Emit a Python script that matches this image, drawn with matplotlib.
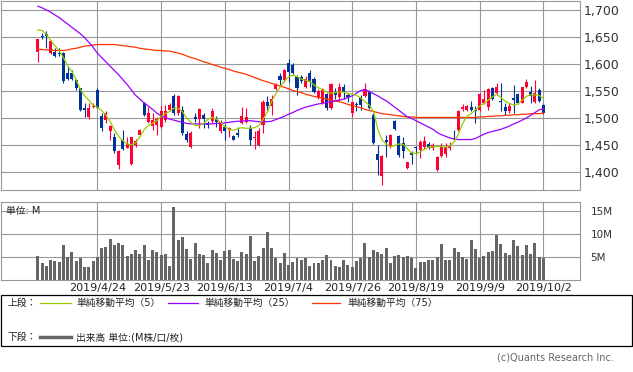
import matplotlib
matplotlib.use("Agg")
import matplotlib.pyplot as plt
from matplotlib.patches import Rectangle
from matplotlib.lines import Line2D
import numpy as np

plt.rcParams['font.family'] = ['DejaVu Sans', 'Noto Sans CJK JP']

# daily candles, 2019/4/4 .. 2019/10/2 (120 trading days)
opens = [1623, 1652, 1656, 1620, 1623, 1620, 1620, 1584, 1584, 1570,
         1555, 1518, 1502, 1521, 1552, 1504, 1496, 1475, 1465, 1413,
         1460, 1444, 1415, 1450, 1469, 1528, 1493, 1485, 1487, 1484,
         1496, 1515, 1540, 1510, 1515, 1470, 1447, 1502, 1499, 1506,
         1491, 1495, 1499, 1475, 1483, 1477, 1467, 1473, 1490, 1493,
         1481, 1462, 1450, 1487, 1530, 1522, 1553, 1578, 1570, 1602,
         1598, 1576, 1575, 1558, 1584, 1573, 1539, 1527, 1544, 1518,
         1549, 1538, 1558, 1543, 1510, 1525, 1539, 1541, 1549, 1505,
         1434, 1393, 1459, 1447, 1494, 1467, 1453, 1408, 1435, 1447,
         1441, 1447, 1451, 1444, 1404, 1430, 1433, 1444, 1473, 1478,
         1516, 1515, 1521, 1515, 1515, 1527, 1521, 1555, 1546, 1531,
         1520, 1512, 1537, 1545, 1528, 1558, 1549, 1530, 1551, 1524]
closes = [1646, 1650, 1652, 1643, 1615, 1619, 1569, 1573, 1572, 1555,
          1515, 1514, 1518, 1522, 1518, 1481, 1509, 1485, 1438, 1439,
          1442, 1452, 1464, 1458, 1478, 1506, 1509, 1496, 1499, 1513,
          1513, 1524, 1510, 1541, 1473, 1460, 1473, 1498, 1517, 1499,
          1487, 1512, 1493, 1493, 1475, 1481, 1460, 1469, 1504, 1502,
          1459, 1464, 1475, 1530, 1522, 1535, 1561, 1570, 1589, 1586,
          1583, 1555, 1569, 1573, 1566, 1549, 1550, 1553, 1518, 1562,
          1543, 1558, 1549, 1539, 1529, 1524, 1524, 1554, 1518, 1453,
          1422, 1430, 1456, 1468, 1480, 1431, 1438, 1418, 1431, 1444,
          1456, 1458, 1447, 1450, 1428, 1447, 1447, 1448, 1472, 1512,
          1521, 1522, 1514, 1512, 1544, 1536, 1553, 1536, 1557, 1530,
          1512, 1522, 1533, 1527, 1557, 1567, 1540, 1546, 1532, 1510]
highs = [1647, 1658, 1661, 1644, 1629, 1629, 1623, 1595, 1588, 1573,
         1556, 1527, 1527, 1528, 1556, 1509, 1512, 1487, 1472, 1441,
         1477, 1465, 1465, 1461, 1479, 1530, 1521, 1509, 1502, 1522,
         1524, 1527, 1544, 1543, 1522, 1475, 1475, 1509, 1518, 1510,
         1495, 1518, 1504, 1496, 1489, 1484, 1469, 1484, 1520, 1518,
         1487, 1475, 1481, 1533, 1540, 1543, 1564, 1583, 1590, 1609,
         1601, 1580, 1580, 1577, 1589, 1575, 1553, 1555, 1546, 1565,
         1555, 1564, 1562, 1547, 1530, 1530, 1543, 1564, 1552, 1509,
         1450, 1432, 1468, 1470, 1496, 1468, 1465, 1419, 1438, 1448,
         1459, 1467, 1456, 1453, 1430, 1453, 1453, 1456, 1477, 1515,
         1526, 1524, 1531, 1522, 1546, 1552, 1555, 1557, 1564, 1564,
         1528, 1528, 1561, 1547, 1558, 1572, 1559, 1570, 1555, 1526]
lows = [1604, 1646, 1629, 1618, 1613, 1614, 1565, 1570, 1570, 1552,
        1512, 1502, 1498, 1518, 1518, 1475, 1490, 1459, 1435, 1405,
        1441, 1444, 1413, 1447, 1466, 1503, 1491, 1478, 1468, 1481,
        1493, 1512, 1506, 1506, 1468, 1456, 1445, 1493, 1481, 1482,
        1481, 1491, 1484, 1472, 1459, 1465, 1459, 1464, 1489, 1491,
        1450, 1442, 1448, 1472, 1512, 1506, 1552, 1561, 1567, 1567,
        1581, 1542, 1564, 1555, 1558, 1546, 1536, 1525, 1515, 1516,
        1536, 1533, 1536, 1530, 1501, 1512, 1515, 1539, 1517, 1451,
        1394, 1375, 1428, 1444, 1478, 1428, 1425, 1405, 1415, 1434,
        1425, 1442, 1442, 1441, 1402, 1428, 1428, 1441, 1460, 1475,
        1512, 1512, 1512, 1490, 1513, 1526, 1515, 1533, 1543, 1512,
        1506, 1509, 1509, 1525, 1527, 1555, 1527, 1528, 1530, 1507]

# volume, millions of shares
volume = [5.1, 3.7, 3.0, 4.3, 4.1, 3.9, 7.6, 4.9, 6.0, 4.1,
          4.7, 2.8, 2.8, 4.1, 4.9, 6.9, 7.1, 8.8, 7.6, 8.0,
          7.6, 5.2, 5.6, 6.5, 5.6, 7.6, 4.3, 6.5, 6.0, 5.4,
          5.6, 3.0, 15.8, 8.6, 9.3, 6.7, 4.5, 8.0, 5.6, 5.4,
          3.7, 6.5, 5.8, 4.3, 6.3, 6.5, 4.5, 4.1, 6.0, 5.6,
          9.5, 4.1, 5.2, 6.9, 10.4, 6.9, 4.7, 3.7, 5.8, 3.2,
          3.9, 4.7, 4.3, 4.7, 3.0, 3.7, 3.7, 4.3, 5.4, 4.3,
          3.0, 2.8, 4.3, 3.2, 2.8, 4.1, 4.7, 8.0, 4.9, 6.5,
          6.0, 5.6, 6.9, 3.7, 5.2, 5.4, 5.0, 5.2, 4.7, 2.6,
          3.9, 3.9, 4.3, 4.3, 4.9, 7.8, 4.3, 4.3, 6.9, 6.0,
          4.9, 4.5, 8.6, 6.7, 4.7, 5.2, 6.0, 6.3, 9.7, 7.8,
          5.8, 5.4, 8.6, 7.3, 5.4, 7.6, 5.6, 8.0, 4.9, 4.7]

ma5 = [1663, 1662, 1655, 1644, 1634, 1625, 1612, 1597, 1586, 1571,
       1553, 1541, 1533, 1524, 1520, 1514, 1505, 1494, 1478, 1466,
       1458, 1452, 1450, 1454, 1465, 1478, 1486, 1490, 1495, 1503,
       1508, 1512, 1518, 1518, 1512, 1500, 1492, 1486, 1486, 1490,
       1497, 1501, 1498, 1492, 1484, 1479, 1477, 1480, 1482, 1481,
       1481, 1482, 1486, 1497, 1511, 1530, 1545, 1557, 1568, 1576,
       1579, 1577, 1572, 1570, 1568, 1561, 1556, 1552, 1548, 1546,
       1547, 1548, 1548, 1545, 1544, 1542, 1537, 1530, 1524, 1512,
       1480, 1459, 1452, 1447, 1449, 1452, 1451, 1443, 1435, 1434,
       1437, 1442, 1446, 1447, 1447, 1447, 1446, 1448, 1456, 1470,
       1490, 1503, 1508, 1515, 1522, 1527, 1533, 1539, 1544, 1538,
       1531, 1527, 1524, 1526, 1533, 1540, 1543, 1543, 1542, 1536]
ma25 = [1707, 1704, 1700, 1696, 1691, 1686, 1680, 1674, 1668, 1662,
        1656, 1649, 1640, 1631, 1620, 1612, 1604, 1596, 1588, 1580,
        1571, 1562, 1552, 1542, 1535, 1528, 1522, 1516, 1509, 1504,
        1501, 1498, 1496, 1494, 1492, 1490, 1489, 1489, 1489, 1489,
        1489, 1489, 1490, 1490, 1491, 1492, 1493, 1494, 1494, 1495,
        1495, 1494, 1493, 1493, 1493, 1494, 1497, 1500, 1503, 1507,
        1510, 1514, 1517, 1520, 1522, 1524, 1526, 1527, 1529, 1530,
        1532, 1533, 1535, 1538, 1541, 1546, 1551, 1552, 1549, 1545,
        1541, 1536, 1532, 1526, 1520, 1514, 1508, 1502, 1499, 1495,
        1491, 1487, 1483, 1479, 1473, 1469, 1466, 1463, 1461, 1460,
        1460, 1460, 1460, 1462, 1466, 1470, 1473, 1475, 1477, 1479,
        1482, 1485, 1489, 1492, 1496, 1500, 1505, 1510, 1515, 1517]
ma75 = [1627, 1627, 1626, 1626, 1625, 1625, 1625, 1626, 1628, 1629,
        1631, 1633, 1634, 1635, 1636, 1636, 1636, 1636, 1636, 1635,
        1634, 1633, 1632, 1631, 1629, 1628, 1627, 1626, 1625, 1625,
        1624, 1624, 1622, 1620, 1618, 1615, 1612, 1610, 1607, 1604,
        1602, 1599, 1597, 1594, 1592, 1590, 1587, 1585, 1583, 1581,
        1578, 1575, 1572, 1569, 1567, 1564, 1562, 1559, 1557, 1554,
        1551, 1549, 1547, 1544, 1542, 1540, 1538, 1537, 1535, 1533,
        1531, 1530, 1528, 1525, 1523, 1521, 1519, 1516, 1514, 1512,
        1510, 1508, 1507, 1506, 1505, 1504, 1503, 1502, 1502, 1501,
        1501, 1501, 1501, 1501, 1501, 1501, 1501, 1501, 1501, 1501,
        1501, 1501, 1501, 1501, 1502, 1502, 1503, 1503, 1504, 1504,
        1505, 1505, 1506, 1506, 1507, 1507, 1508, 1508, 1508, 1509]

tick_idx = [14, 29, 44, 59, 74, 89, 104, 119]
tick_labels = ['2019/4/24', '2019/5/23', '2019/6/13', '2019/7/4',
               '2019/7/26', '2019/8/19', '2019/9/9', '2019/10/2']
price_ticks = [1400, 1450, 1500, 1550, 1600, 1650, 1700]
vol_ticks = [5, 10, 15]

UP = '#ff0033'
DOWN = '#003399'
GRID = '#999999'

W, H = 633, 372
fig = plt.figure(figsize=(W / 100, H / 100), dpi=100)

def fx(px):
    return px / W

def fy(py):
    return 1 - py / H

ax = fig.add_axes([fx(0.5), fy(190), fx(579), 189.3 / H])
axv = fig.add_axes([fx(0.5), fy(280), fx(579), 78 / H])

x = np.arange(len(closes))
o = np.array(opens)
c = np.array(closes)
col = np.where(c >= o, UP, DOWN)

ax.vlines(x, lows, highs, colors=col, lw=0.8, zorder=3)
ax.bar(x, np.maximum(np.abs(c - o), 0.8), bottom=np.minimum(o, c), width=0.72,
       color=col, lw=0, zorder=4)
ax.plot(x, ma75, color='#ff3300', lw=0.9, zorder=5)
ax.plot(x, ma25, color='#9900ff', lw=0.9, zorder=5)
ax.plot(x, ma5, color='#99cc00', lw=0.9, zorder=5)

ax.set_xlim(-8.8, 127.5)
ax.set_ylim(1366.6, 1717.2)
ax.set_xticks(tick_idx)
ax.set_xticklabels([])
ax.set_yticks(price_ticks)
ax.set_yticklabels(['{:,}'.format(p) for p in price_ticks])
ax.yaxis.tick_right()
ax.tick_params(axis='both', length=0)
ax.tick_params(axis='y', pad=3, labelsize=9, labelcolor='#333333')
ax.grid(True, color=GRID, lw=0.8)
ax.set_axisbelow(True)

axv.bar(x, volume, width=0.7, color='#666666', lw=0, zorder=3)
axv.set_xlim(-8.8, 127.5)
axv.set_ylim(0, 16.84)
axv.set_xticks(tick_idx)
axv.set_xticklabels(tick_labels, fontsize=8, color='#222222')
axv.set_yticks(vol_ticks)
axv.set_yticklabels(['%dM' % v for v in vol_ticks])
axv.yaxis.tick_right()
axv.tick_params(axis='both', length=0)
axv.tick_params(axis='x', pad=2)
axv.tick_params(axis='y', pad=8, labelsize=7.5, labelcolor='#333333')
axv.grid(True, color=GRID, lw=0.8)
axv.set_axisbelow(True)
axv.text(5 / 579, 0.89, '単位: M', transform=axv.transAxes, fontsize=7,
         ha='left', va='center', color='#222222')

for a in (ax, axv):
    for s in a.spines.values():
        s.set_color(GRID)
        s.set_linewidth(0.8)

# legend box
fig.add_artist(Rectangle((fx(0.5), fy(346)), fx(631.5), 51 / H,
                         transform=fig.transFigure, fill=False,
                         edgecolor='black', lw=0.9))

def leg_line(x0, x1, y, color, lw):
    fig.add_artist(Line2D([fx(x0), fx(x1)], [fy(y), fy(y)],
                          transform=fig.transFigure, color=color, lw=lw))

def leg_text(px, py, s):
    fig.text(fx(px), fy(py), s, fontsize=7, ha='left', va='center',
             color='#222222')

leg_text(8, 303, '上段：')
leg_line(40, 71, 303, '#99cc00', 0.9)
leg_text(76, 303, '単純移動平均（5）')
leg_line(168, 198, 303, '#9900ff', 0.9)
leg_text(204, 303, '単純移動平均（25）')
leg_line(312, 340, 303, '#ff3300', 0.9)
leg_text(347, 303, '単純移動平均（75）')

leg_text(8, 337, '下段：')
leg_line(40, 71, 337, '#666666', 2.5)
leg_text(76, 337, '出来高 単位:(M株/口/枚)')

fig.text(fx(614), fy(358), '(c)Quants Research Inc.', fontsize=7,
         ha='right', va='center', color='#666666')

fig.savefig('out.png', dpi=100)
